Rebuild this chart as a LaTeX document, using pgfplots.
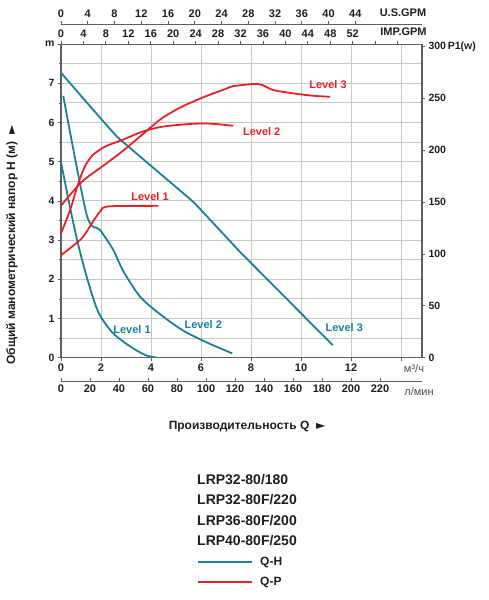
\documentclass[border=0pt]{standalone}
\usepackage{pgfplots}
\pgfplotsset{compat=1.18}
\usepackage{fontspec}
\setmainfont{Liberation Sans}
\newfontfamily\dejavu{DejaVu Sans}
\definecolor{qh}{RGB}{26,128,152}
\definecolor{qp}{RGB}{232,32,42}
\definecolor{gridc}{RGB}{200,200,200}
\definecolor{axc}{RGB}{95,95,95}
\definecolor{txt}{RGB}{30,30,30}
\newcommand{\tfont}{\bfseries\fontsize{10.5}{12}\selectfont}
\newcommand{\bfont}{\bfseries\fontsize{11}{13}\selectfont}
\pgfplotsset{
  extra/.style={scale only axis, width=361pt, height=5pt, ymin=0, ymax=1,
    axis y line=none,
    axis line style={axc, line width=0.9pt},
    tick style={axc, line width=0.8pt},
    major tick length=3pt,
    ticklabel style={font=\bfont, text=txt},
    /pgf/number format/assume math mode=true},
}
\begin{document}
\begin{tikzpicture}[x=1pt,y=1pt]
\useasboundingbox (0,0) rectangle (489,-600);

% ---------- main axis : head H (m) vs Q (m3/h) ----------
\begin{axis}[
  at={(61pt,-357.7pt)}, anchor=south west,
  scale only axis, width=361pt, height=313.6pt,
  xmin=0.4, xmax=14.84, ymin=0, ymax=8,
  xtick={0.4,2,4,6,8,10,12,14},
  xticklabels={\raisebox{-3pt}{0},2,4,6,8,10,12,{}},
  ytick={0,...,8}, yticklabels={0,1,2,3,4,5,6,7,m},
  minor ytick={0.5,1.5,...,7.5},
  xtick pos=bottom, ytick pos=left,
  grid=both,
  major grid style={gridc, line width=0.9pt},
  minor grid style={gridc, line width=0.9pt},
  axis line style={axc, line width=1.2pt},
  tick style={axc, line width=0.8pt},
  tick align=outside, major tick length=3pt, minor tick length=2pt,
  ticklabel style={font=\tfont, text=txt},
  xticklabel style={font=\bfont},
  /pgf/number format/assume math mode=true,
]
\addplot[qh, line width=1.8pt, smooth, tension=0.15] coordinates {
 (0.40,7.27) (2.64,5.64) (5.68,3.98) (7.56,2.70) (11.27,0.32)};
\addplot[qh, line width=1.8pt, smooth, tension=0.45] coordinates {
 (0.49,6.68) (1.43,3.64) (1.96,3.26) (2.49,2.75) (2.89,2.21) (3.56,1.56)
 (4.36,1.11) (5.29,0.69) (6.23,0.39) (7.25,0.11)};
\addplot[qh, line width=1.8pt, smooth, tension=0.5] coordinates {
 (0.40,4.99) (0.76,3.84) (1.09,2.88) (1.49,1.93) (1.89,1.17) (2.43,0.66)
 (3.09,0.32) (3.76,0.07) (4.24,0.0)};
\end{axis}

% ---------- right axis : power P1 (W) ----------
\begin{axis}[
  at={(61pt,-357.7pt)}, anchor=south west,
  scale only axis, width=361pt, height=313.6pt,
  xmin=0.4, xmax=14.84, ymin=0, ymax=302.3,
  axis x line=none, axis y line*=right,
  ytick={0,50,...,300},
  yticklabels={0,50,100,150,200,250,{300\,P1(w)}},
  axis line style={axc, line width=1.2pt},
  tick style={axc, line width=0.8pt},
  tick align=outside, major tick length=3pt,
  ticklabel style={font=\tfont, text=txt},
  /pgf/number format/assume math mode=true,
]
\addplot[qp, line width=1.8pt, smooth, tension=0.35] coordinates {
 (0.40,98.8) (1.23,115) (1.76,134.2) (2.09,144.6) (2.48,146.1) (4.29,146.4)};
\addplot[qp, line width=1.8pt, smooth, tension=0.45] coordinates {
 (0.40,119.8) (0.76,142) (1.09,168) (1.36,184.6) (1.67,195.3) (2.16,203.5)
 (2.83,209.7) (3.63,217.7) (4.43,222.6) (5.49,225.2) (6.16,225.8) (6.76,224.9) (7.29,223.5)};
\addplot[qp, line width=1.8pt, smooth, tension=0.45] coordinates {
 (0.40,146.6) (1.23,169.5) (2.03,184) (2.83,198.5) (3.63,214.6) (4.43,230.7)
 (5.23,241.9) (6.16,251.7) (6.96,258.9) (7.29,261.8) (8.09,263.8) (8.42,263.2)
 (8.89,258) (9.69,254.8) (10.49,252.5) (11.16,251.5)};
\end{axis}

% ---------- U.S. GPM ----------
\begin{axis}[extra, at={(61pt,-24pt)}, anchor=north west,
  axis x line*=top, tick align=outside,
  xmin=0, xmax=53.97, xtick={0,4,...,44}]
\end{axis}
% ---------- IMP. GPM ----------
\begin{axis}[extra, at={(61pt,-44.1pt)}, anchor=north west,
  axis x line*=top, tick align=outside,
  xmin=0, xmax=64.35, xtick={0,4,...,60},
  xticklabels={0,4,8,12,16,20,24,28,32,36,40,44,48,52,{},{}}]
\end{axis}
% ---------- l/min ----------
\begin{axis}[extra, at={(61pt,-381pt)}, anchor=south west,
  axis x line*=bottom, tick align=inside,
  xmin=0, xmax=249, xtick={0,20,...,220}]
\end{axis}

% ---------- texts ----------
\node[font=\bfont, text=txt] at (403,-13) {U.S.GPM};
\node[font=\bfont, text=txt] at (403.5,-32) {IMP.GPM};
\node[font=\fontsize{11}{13}\selectfont, text=txt!80] at (414,-369) {м³/ч};
\node[font=\fontsize{11}{13}\selectfont, text=txt!80] at (419,-392) {л/мин};
\node[font=\bfseries\fontsize{12}{14}\selectfont, text=txt] at (247,-427)
  {Производительность Q \ {\dejavu\fontsize{12}{14}\selectfont ►}};
\node[rotate=90, font=\bfseries\fontsize{12}{14}\selectfont, text=txt] at (12,-245)
  {Общий манометрический напор Н (м) \ {\dejavu\fontsize{12}{14}\selectfont ►}};

% curve labels
\node[font=\bfont, text=qp] at (328,-85) {Level 3};
\node[font=\bfont, text=qp] at (261.7,-131.7) {Level 2};
\node[font=\bfont, text=qp] at (150,-197) {Level 1};
\node[font=\bfont, text=qh] at (132,-330) {Level 1};
\node[font=\bfont, text=qh] at (203.3,-325) {Level 2};
\node[font=\bfont, text=qh] at (344.3,-327.3) {Level 3};

% legend
\begin{scope}[every node/.style={anchor=west, inner sep=0pt, text=txt,
    font=\bfseries\fontsize{14}{16}\selectfont}]
\node at (197,-480) {LRP32-80/180};
\node at (197,-500) {LRP32-80F/220};
\node at (197,-521) {LRP36-80F/200};
\node at (197,-541) {LRP40-80F/250};
\node[font=\bfseries\fontsize{12}{14}\selectfont] at (260,-562) {Q-H};
\node[font=\bfseries\fontsize{12}{14}\selectfont] at (260,-582) {Q-P};
\end{scope}
\draw[qh, line width=1.5pt] (198,-562) -- (252,-562);
\draw[qp, line width=1.5pt] (198,-582) -- (252,-582);
\end{tikzpicture}
\end{document}
